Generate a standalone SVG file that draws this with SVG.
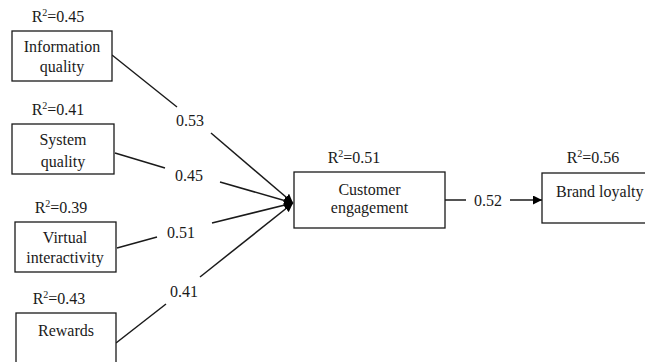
<svg xmlns="http://www.w3.org/2000/svg" width="645" height="362" viewBox="0 0 645 362" font-family="Liberation Serif, serif" font-size="16">
<defs>
<marker id="arr" viewBox="0 0 10 10" refX="10" refY="5" markerWidth="9" markerHeight="9" markerUnits="userSpaceOnUse" orient="auto">
<path d="M0,0 L10,5 L0,10 z" fill="#000"/>
</marker>
<style>
svg text, svg tspan{font-family:"Liberation Serif",serif !important;fill:#1a1a1a}
.box{fill:#fff;stroke:#1a1a1a;stroke-width:1.3}
.ln{stroke:#1a1a1a;stroke-width:1.5;fill:none}
.c{text-anchor:middle}
.sup{font-size:10px}
</style>
</defs>
<rect width="645" height="362" fill="#fff"/>
<g id="connectors">
<line class="ln" x1="112" y1="55" x2="177" y2="107"/>
<line class="ln" x1="211" y1="133" x2="293" y2="203" marker-end="url(#arr)"/>
<line class="ln" x1="115" y1="153" x2="165" y2="168"/>
<line class="ln" x1="220" y1="182" x2="293" y2="203" marker-end="url(#arr)"/>
<line class="ln" x1="117" y1="248" x2="157" y2="237"/>
<line class="ln" x1="212" y1="223" x2="293" y2="203" marker-end="url(#arr)"/>
<line class="ln" x1="116" y1="343" x2="166" y2="304"/>
<line class="ln" x1="200" y1="277" x2="293" y2="203" marker-end="url(#arr)"/>
<line class="ln" x1="445" y1="200" x2="466" y2="200"/>
<line class="ln" x1="510" y1="200" x2="542" y2="200" marker-end="url(#arr)"/>
<text x="190" y="126" class="c" style="font-family:'Liberation Serif',serif">0.53</text>
<text x="189" y="181" class="c" style="font-family:'Liberation Serif',serif">0.45</text>
<text x="181" y="238" class="c" style="font-family:'Liberation Serif',serif">0.51</text>
<text x="184" y="297" class="c" style="font-family:'Liberation Serif',serif">0.41</text>
<text x="488" y="206" class="c" style="font-family:'Liberation Serif',serif">0.52</text>
</g>
<g id="information-quality">
<text x="58" y="22" class="c" style="font-family:'Liberation Serif',serif">R<tspan class="sup" dy="-6">2</tspan><tspan dy="6">=0.45</tspan></text>
<rect class="box" x="12" y="31" width="100" height="50"/>
<text x="62" y="52" class="c" style="font-family:'Liberation Serif',serif">Information</text>
<text x="62" y="72" class="c" style="font-family:'Liberation Serif',serif">quality</text>
</g>
<g id="system-quality">
<text x="58" y="115" class="c" style="font-family:'Liberation Serif',serif">R<tspan class="sup" dy="-6">2</tspan><tspan dy="6">=0.41</tspan></text>
<rect class="box" x="12" y="124" width="102" height="50"/>
<text x="63" y="145" class="c" style="font-family:'Liberation Serif',serif">System</text>
<text x="63" y="167" class="c" style="font-family:'Liberation Serif',serif">quality</text>
</g>
<g id="virtual-interactivity">
<text x="61" y="213" class="c" style="font-family:'Liberation Serif',serif">R<tspan class="sup" dy="-6">2</tspan><tspan dy="6">=0.39</tspan></text>
<rect class="box" x="15" y="222" width="101" height="50"/>
<text x="65" y="243" class="c" style="font-family:'Liberation Serif',serif">Virtual</text>
<text x="65" y="263" class="c" style="font-family:'Liberation Serif',serif">interactivity</text>
</g>
<g id="rewards">
<text x="59" y="304" class="c" style="font-family:'Liberation Serif',serif">R<tspan class="sup" dy="-6">2</tspan><tspan dy="6">=0.43</tspan></text>
<rect class="box" x="16" y="313" width="100" height="60"/>
<text x="66" y="336" class="c" style="font-family:'Liberation Serif',serif">Rewards</text>
</g>
<g id="customer-engagement">
<text x="354" y="163" class="c" style="font-family:'Liberation Serif',serif">R<tspan class="sup" dy="-6">2</tspan><tspan dy="6">=0.51</tspan></text>
<rect class="box" x="294" y="172" width="151" height="56"/>
<text x="369.5" y="195" class="c" style="font-family:'Liberation Serif',serif">Customer</text>
<text x="369.5" y="213" class="c" style="font-family:'Liberation Serif',serif">engagement</text>
</g>
<g id="brand-loyalty">
<text x="593" y="163" class="c" style="font-family:'Liberation Serif',serif">R<tspan class="sup" dy="-6">2</tspan><tspan dy="6">=0.56</tspan></text>
<rect class="box" x="542" y="173" width="120" height="50"/>
<text x="556" y="197" style="font-family:'Liberation Serif',serif">Brand loyalty</text>
</g>
</svg>
